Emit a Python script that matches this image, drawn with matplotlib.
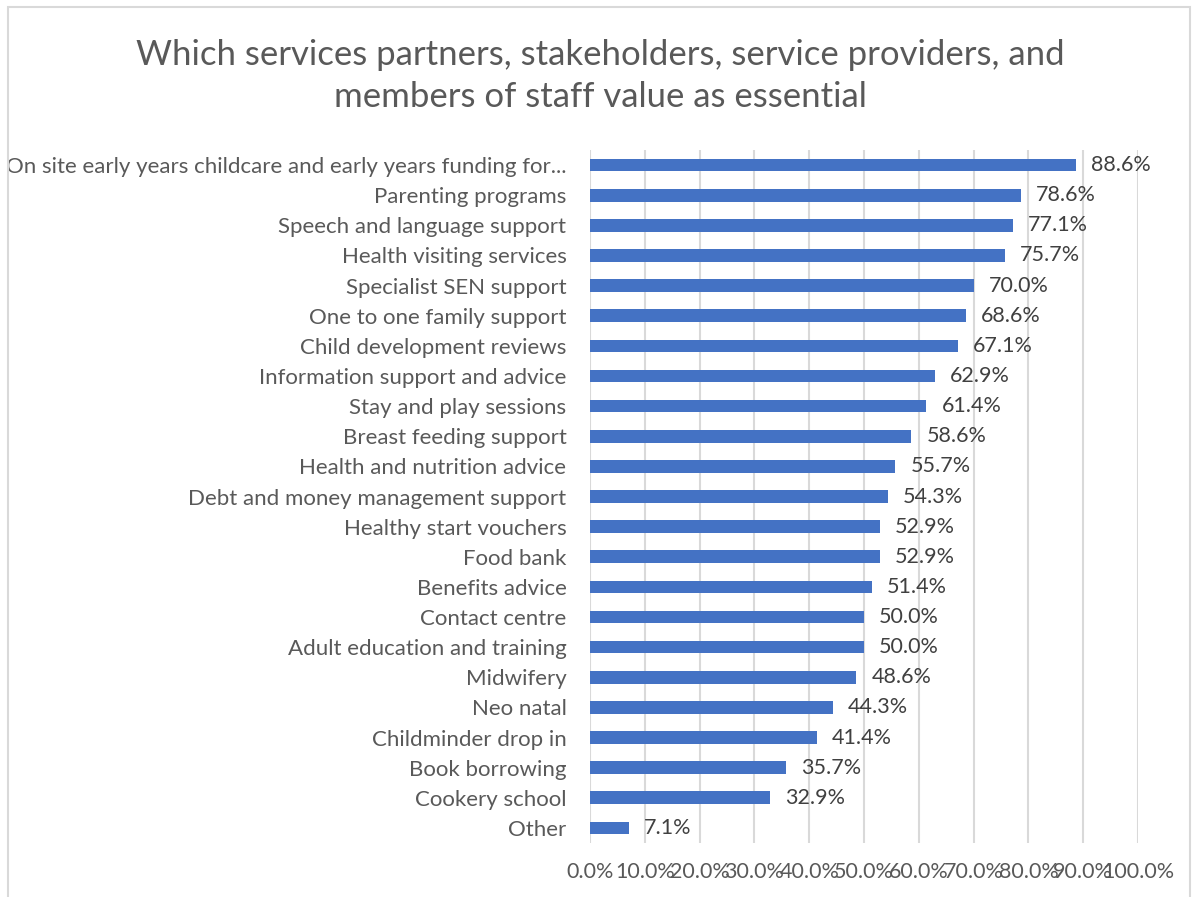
import matplotlib.pyplot as plt
from matplotlib.patches import Rectangle
from matplotlib.ticker import FuncFormatter

# Share of respondents rating each service as essential (%)
services = [
    "On site early years childcare and early years funding for...",
    "Parenting programs",
    "Speech and language support",
    "Health visiting services",
    "Specialist SEN support",
    "One to one family support",
    "Child development reviews",
    "Information support and advice",
    "Stay and play sessions",
    "Breast feeding support",
    "Health and nutrition advice",
    "Debt and money management support",
    "Healthy start vouchers",
    "Food bank",
    "Benefits advice",
    "Contact centre",
    "Adult education and training",
    "Midwifery",
    "Neo natal",
    "Childminder drop in",
    "Book borrowing",
    "Cookery school",
    "Other",
]
percent = [88.6, 78.6, 77.1, 75.7, 70.0, 68.6, 67.1, 62.9, 61.4, 58.6, 55.7,
           54.3, 52.9, 52.9, 51.4, 50.0, 50.0, 48.6, 44.3, 41.4, 35.7, 32.9, 7.1]
x_ticks = list(range(0, 101, 10))

plt.rcParams['font.family'] = ['Lato', 'DejaVu Sans']

fig = plt.figure(figsize=(12, 8.97), dpi=100)
fig.patches.append(Rectangle((8 / 1200, -0.01), 1182 / 1200, 1 - 7 / 897 + 0.01,
                             transform=fig.transFigure, fill=False,
                             edgecolor='#d9d9d9', linewidth=1.5))

ax = fig.add_axes([590 / 1200, 1 - 843 / 897, 548 / 1200, 693 / 897])
pos = list(range(len(services)))
ax.barh(pos, percent, height=0.42, color='#4472C4', zorder=3)
for p, v in zip(pos, percent):
    ax.annotate(f"{v:.1f}%", (v, p), xytext=(11, 0), textcoords='offset points',
                ha='left', va='center', fontsize=15.5, color='#404040')

ax.set_xlim(0, 100)
ax.set_ylim(len(services) - 0.5, -0.5)
ax.set_xticks(x_ticks)
ax.xaxis.set_major_formatter(FuncFormatter(lambda v, _: f"{v:.1f}%"))
ax.set_yticks(pos)
ax.set_yticklabels(services)
ax.tick_params(axis='x', length=0, pad=14, labelsize=15.5, labelcolor='#595959')
ax.tick_params(axis='y', length=0, pad=17, labelsize=16, labelcolor='#595959')
ax.grid(axis='x', color='#d9d9d9', linewidth=1.5, zorder=0)
for s in ax.spines.values():
    s.set_visible(False)

fig.text(0.5, 1 - 76 / 897,
         "Which services partners, stakeholders, service providers, and\n"
         "members of staff value as essential",
         ha='center', va='center', fontsize=25, color='#595959', linespacing=1.42)

fig.savefig("out.png", dpi=100)
